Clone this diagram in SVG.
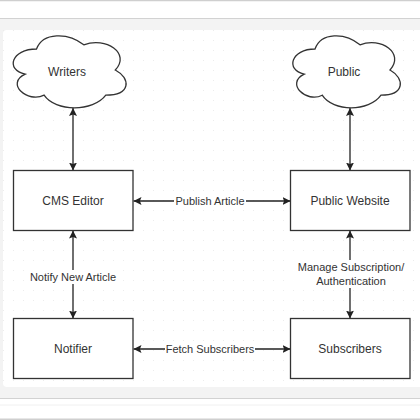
<svg xmlns="http://www.w3.org/2000/svg" width="420" height="420" viewBox="0 0 420 420">
  <defs>
    <pattern id="grid" x="3" y="30" width="10" height="10" patternUnits="userSpaceOnUse">
      <rect x="0" y="0" width="1" height="1" fill="#ececec"/>
    </pattern>
    <marker id="arr" viewBox="0 0 10 10" refX="10" refY="5" markerWidth="8" markerHeight="8" markerUnits="userSpaceOnUse" orient="auto-start-reverse">
      <path d="M0,0 L10,5 L0,10 L2,5 Z" fill="#222"/>
    </marker>
    <style>
      .box { fill: #ffffff; stroke: #333333; stroke-width: 1.3; }
      .cloud { fill: #ffffff; stroke: #333333; stroke-width: 1.3; }
      .node-text { font-family: "Liberation Sans", Arial, sans-serif; font-size: 12px; fill: #333333; text-anchor: middle; dominant-baseline: central; }
      .edge { fill: none; stroke: #222222; stroke-width: 1.3; marker-start: url(#arr); marker-end: url(#arr); }
      .edge-label { font-family: "Liberation Sans", Arial, sans-serif; font-size: 11px; fill: #333333; text-anchor: middle; dominant-baseline: central; }
      .label-bg { fill: #ffffff; }
    </style>
  </defs>

  <!-- frame / photo surroundings -->
  <rect x="0" y="0" width="420" height="420" fill="#ffffff"/>
  <line x1="0" y1="0.5" x2="420" y2="0.5" stroke="#cfcfcf" stroke-width="1.5"/>
  <rect x="0" y="18" width="420" height="381" fill="#f3f3f3"/>
  <line x1="0" y1="18.5" x2="420" y2="18.5" stroke="#d2d2d2" stroke-width="1"/>
  <rect x="3" y="30" width="425" height="357" rx="4" fill="#ffffff"/>
  <rect x="3" y="30" width="425" height="357" fill="url(#grid)"/>
  <line x1="0" y1="398.5" x2="420" y2="398.5" stroke="#d2d2d2" stroke-width="1"/>
  <line x1="0" y1="405" x2="420" y2="405" stroke="#f0f0f0" stroke-width="1"/>
  <line x1="0" y1="419.3" x2="420" y2="419.3" stroke="#cfcfcf" stroke-width="1.5"/>

  <!-- connectors -->
  <g id="connectors">
    <line class="edge" x1="73" y1="108" x2="73" y2="170.5"/>
    <line class="edge" x1="350" y1="108" x2="350" y2="170.5"/>
    <line class="edge" x1="133.5" y1="201" x2="290.5" y2="201"/>
    <line class="edge" x1="73" y1="230.5" x2="73" y2="318.5"/>
    <line class="edge" x1="350" y1="230.5" x2="350" y2="318.5"/>
    <line class="edge" x1="133.5" y1="349" x2="290.5" y2="349"/>

    <rect class="label-bg" x="174" y="194" width="72" height="14"/>
    <text class="edge-label" x="210" y="201">Publish Article</text>

    <rect class="label-bg" x="24" y="270" width="98" height="14"/>
    <text class="edge-label" x="73" y="277">Notify New Article</text>

    <rect class="label-bg" x="293" y="260" width="114" height="28"/>
    <text class="edge-label" x="351" y="267">Manage Subscription/</text>
    <text class="edge-label" x="351" y="281">Authentication</text>

    <rect class="label-bg" x="165" y="342" width="90" height="14"/>
    <text class="edge-label" x="210" y="349">Fetch Subscribers</text>
  </g>

  <!-- nodes -->
  <g id="writers">
    <path class="cloud" d="M36.5,49 C11.3,49 5,70 25.2,74.2 C5,83.4 27.7,103.6 44.1,95.2 C55.4,112 93.2,112 105.8,95.2 C131,95.2 131,78.4 115.3,70 C131,53.2 105.8,36.4 83.8,44.8 C68,32.2 42.8,32.2 36.5,49 Z"/>
    <text class="node-text" x="67" y="72">Writers</text>
  </g>

  <g id="public">
    <path class="cloud" d="M315,49 C291,49 285,70 304.2,74.2 C285,83.4 306.6,103.6 322.2,95.2 C333,112 369,112 381,95.2 C405,95.2 405,78.4 390,70 C405,53.2 381,36.4 360,44.8 C345,32.2 321,32.2 315,49 Z"/>
    <text class="node-text" x="344" y="72">Public</text>
  </g>

  <g id="cms-editor">
    <rect class="box" x="13.5" y="170.5" width="119.5" height="60"/>
    <text class="node-text" x="73" y="201">CMS Editor</text>
  </g>

  <g id="public-website">
    <rect class="box" x="290.5" y="170.5" width="119.5" height="60"/>
    <text class="node-text" x="350" y="201">Public Website</text>
  </g>

  <g id="notifier">
    <rect class="box" x="13.5" y="318.5" width="119.5" height="60"/>
    <text class="node-text" x="73" y="349">Notifier</text>
  </g>

  <g id="subscribers">
    <rect class="box" x="290.5" y="318.5" width="119.5" height="60"/>
    <text class="node-text" x="350" y="349">Subscribers</text>
  </g>
</svg>
